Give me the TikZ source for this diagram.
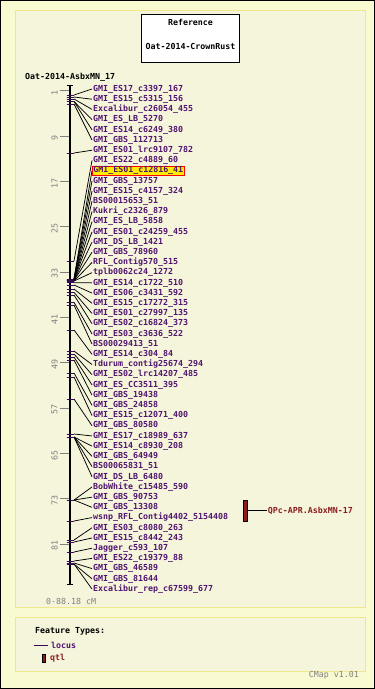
\documentclass[tikz,border=0pt]{standalone}
\usepackage{fontspec}
\setmonofont{DejaVu Sans Mono}
\definecolor{lgyellow}{HTML}{FAFAD2}
\definecolor{slotbeige}{HTML}{F5F5DC}
\definecolor{slotkhaki}{HTML}{F0E68C}
\definecolor{locuspurple}{RGB}{80,20,110}
\definecolor{tickpurple}{RGB}{55,10,85}
\definecolor{qtlred}{RGB}{139,28,28}
\definecolor{hiyellow}{RGB}{255,236,0}
\begin{document}
\begin{tikzpicture}[x=1pt,y=-1pt,
    every node/.style={font=\ttfamily\bfseries\fontsize{8.3}{10}\selectfont,inner sep=1pt},
    locus/.style={anchor=west,text=locuspurple,text height=6pt,text depth=1.5pt},
    greytxt/.style={text=gray,font=\ttfamily\fontsize{8.3}{10}\selectfont},
    rulerlbl/.style={greytxt,rotate=90},
    mtick/.style={draw=tickpurple,line width=0.9pt}]
          \useasboundingbox (0,0) rectangle (375,689);
          \filldraw[fill=lgyellow,draw=black,line width=1pt] (0.5,0.5) rectangle (374.5,688.5);
          \filldraw[fill=slotbeige,draw=slotkhaki] (15,10) rectangle (365,607);
          \filldraw[fill=slotbeige,draw=slotkhaki] (15,617) rectangle (365,671);

          % reference map
          \node[draw,fill=white,minimum width=98pt,minimum height=48pt] (refbox) at (190.5,38.3) {};
          \node (reftitle) at (190.5,22.3) {Reference};
          \node (refmap) at (190.5,46) {Oat-2014-CrownRust};

          \node[anchor=west] (chrtitle) at (24,77.3) {Oat-2014-AsbxMN\_17};

          % ruler
          \foreach \cm in {1,9,...,81}{
            \coordinate (rt\cm) at (60,{85+\cm*5.666});
            \draw[gray] (rt\cm) -- ++(10,0);
            \node[rulerlbl] (rl\cm) at (54.5,{87+\cm*5.666}) {\cm};
          }

          % chromosome
          \coordinate (ctop) at (70,85);
          \coordinate (cbot) at (70,584.6);
          \draw[line width=1.8pt] (ctop) -- (cbot);
          \draw[line width=1pt] ([xshift=-3pt]ctop) -- ([xshift=3pt]ctop);
          \draw[line width=1pt] ([xshift=-3pt]cbot) -- ([xshift=3pt]cbot);

          % markers
          \foreach \ty/\txt [count=\i] in {95/GMI\_ES17\_c3397\_167,
            97/GMI\_ES15\_c5315\_156, 99/Excalibur\_c26054\_455,
            101.5/GMI\_ES\_LB\_5270, 101.5/GMI\_ES14\_c6249\_380,
            104/GMI\_GBS\_112713, 153/GMI\_ES01\_lrc9107\_782,
            261/GMI\_ES22\_c4889\_60, 279/GMI\_ES01\_c12816\_41,
            279/GMI\_GBS\_13757, 279.5/GMI\_ES15\_c4157\_324,
            279.5/BS00015653\_51, 280/Kukri\_c2326\_879,
            280/GMI\_ES\_LB\_5858, 280/GMI\_ES01\_c24259\_455,
            280.5/GMI\_DS\_LB\_1421, 280.5/GMI\_GBS\_78960,
            281/RFL\_Contig570\_515, 281/tplb0062c24\_1272,
            282.7/GMI\_ES14\_c1722\_510, 285/GMI\_ES06\_c3431\_592,
            289/GMI\_ES15\_c17272\_315, 292.3/GMI\_ES01\_c27997\_135,
            295/GMI\_ES02\_c16824\_373, 302.3/GMI\_ES03\_c3636\_522,
            305/BS00029413\_51, 330/GMI\_ES14\_c304\_84,
            351/Tdurum\_contig25674\_294, 354/GMI\_ES02\_lrc14207\_485,
            357/GMI\_ES\_CC3511\_395, 360/GMI\_GBS\_19438,
            373/GMI\_GBS\_24858, 377/GMI\_ES15\_c12071\_400,
            399/GMI\_GBS\_80580, 434/GMI\_ES17\_c18989\_637,
            437/GMI\_ES14\_c8930\_208, 437/GMI\_GBS\_64949,
            437/BS00065831\_51, 437/GMI\_DS\_LB\_6480,
            500/BobWhite\_c15485\_590, 500/GMI\_GBS\_90753,
            500/GMI\_GBS\_13308, 521/wsnp\_RFL\_Contig4402\_5154408,
            540/GMI\_ES03\_c8080\_263, 542/GMI\_ES15\_c8442\_243,
            552/Jagger\_c593\_107, 561/GMI\_ES22\_c19379\_88,
            563/GMI\_GBS\_46589, 564/GMI\_GBS\_81644,
            564/Excalibur\_rep\_c67599\_677}{
            \coordinate (mk\i) at (74,\ty);
            \draw[mtick] ([xshift=-7.5pt]mk\i) -- (mk\i);
            \node[locus] (lb\i) at (92,{89+(\i-1)*10.204}) {\txt};
            \draw[line width=0.75pt] (mk\i) -- (lb\i.west);
          }
          \node[locus,fill=hiyellow,draw=red,line width=0.6pt] (hilite) at (lb9.west) {GMI\_ES01\_c12816\_41};

          % qtl
          \node[draw=black,fill=qtlred,minimum width=3.4pt,minimum height=21.7pt,inner sep=0pt] (qtl) at (245,510.8) {};
          \node[anchor=west,text=qtlred] (qtllbl) at (266.7,510.8) {QPc-APR.AsbxMN-17};
          \draw[line width=0.75pt] (qtl.east) -- (qtllbl.west);

          \node[anchor=west,greytxt] (span) at (45,601) {0-88.18 cM};

          % legend
          \node[anchor=west] (ftypes) at (34,631.7) {Feature Types:};
          \coordinate (lgl) at (34.3,645);
          \draw[tickpurple,line width=0.8pt] (lgl) -- ++(13.4,0);
          \node[anchor=west,text=locuspurple] (lgloc) at (50,645) {locus};
          \node[draw=black,fill=qtlred,minimum width=2.8pt,minimum height=7.7pt,inner sep=0pt] (lgqtl) at (43.7,658) {};
          \node[anchor=west,text=qtlred] (lgqtltxt) at (49,658.3) {qtl};

          \node[anchor=east,greytxt] (version) at (360,675.7) {CMap v1.01};
\end{tikzpicture}
\end{document}
